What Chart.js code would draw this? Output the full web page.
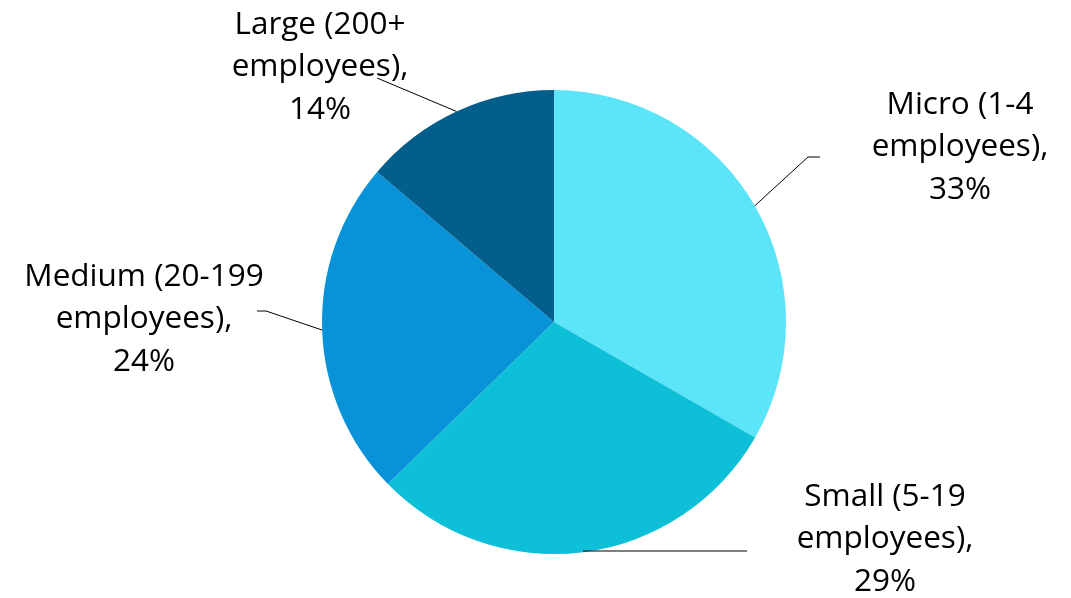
<!DOCTYPE html>
<html>
<head>
<meta charset="utf-8">
<script src="https://cdn.jsdelivr.net/npm/chart.js@4/dist/chart.umd.min.js"></script>
<style>
  html, body { margin: 0; padding: 0; background: #ffffff; }
  #wrap { width: 1071px; height: 598px; }
</style>
</head>
<body>
<div id="wrap"><canvas id="pie" width="1071" height="598"></canvas></div>
<script>
// data (slice sizes, labels show them rounded)
const categories = ['Micro (1-4 employees)', 'Small (5-19 employees)', 'Medium (20-199 employees)', 'Large (200+ employees)'];
const shares = [33.3, 29.4, 23.5, 13.8];
const sliceColors = ['#5ce4f8', '#0dc0d8', '#0893d8', '#045e8c'];

// where each label sits (text centre x, first line y) and its leader line bends
const labelLayout = [
     { x: 960, y: 105, path: [[808, 157], [820, 157]] },
     { x: 885, y: 497, path: [[747, 551]], flat: true },
     { x: 144, y: 277, path: [[266, 311], [257, 311]] },
     { x: 320, y: 25, path: [[377, 78]] }
];

const labelPlugin = {
     id: 'pieLabels',
     afterDatasetsDraw(chart) {
          const ctx = chart.ctx;
          const meta = chart.getDatasetMeta(0);
          ctx.save();
          meta.data.forEach((arc, i) => {
               const mid = (arc.startAngle + arc.endAngle) / 2;
               const sx = arc.x + Math.cos(mid) * arc.outerRadius;
               const sy = arc.y + Math.sin(mid) * arc.outerRadius;
               const lay = labelLayout[i];

               // leader line
               ctx.strokeStyle = '#000000';
               ctx.lineWidth = 1;
               ctx.beginPath();
               ctx.moveTo(sx, lay.flat ? lay.path[0][1] : sy);
               lay.path.forEach(p => ctx.lineTo(p[0], p[1]));
               ctx.stroke();

               // text
               const lines = categories[i].replace(' employees)', '\nemployees),').split('\n');
               lines.push(Math.round(shares[i]) + '%');
               ctx.fillStyle = '#000000';
               ctx.font = '31.5px "Open Sans"';
               ctx.textAlign = 'center';
               ctx.textBaseline = 'middle';
               lines.forEach((t, k) => ctx.fillText(t, lay.x, lay.y + k * 42.5));
          });
          ctx.restore();
     }
};

new Chart(document.getElementById('pie'), {
     type: 'pie',
     data: {
          labels: categories,
          datasets: [{
               data: shares,
               backgroundColor: sliceColors,
               borderWidth: 0
          }]
     },
     options: {
          responsive: false,
          animation: false,
          layout: {
               padding: { top: 90, bottom: 44, left: 322, right: 285 }
          },
          plugins: {
               legend: { display: false },
               tooltip: { enabled: false }
          }
     },
     plugins: [labelPlugin]
});
</script>
</body>
</html>
